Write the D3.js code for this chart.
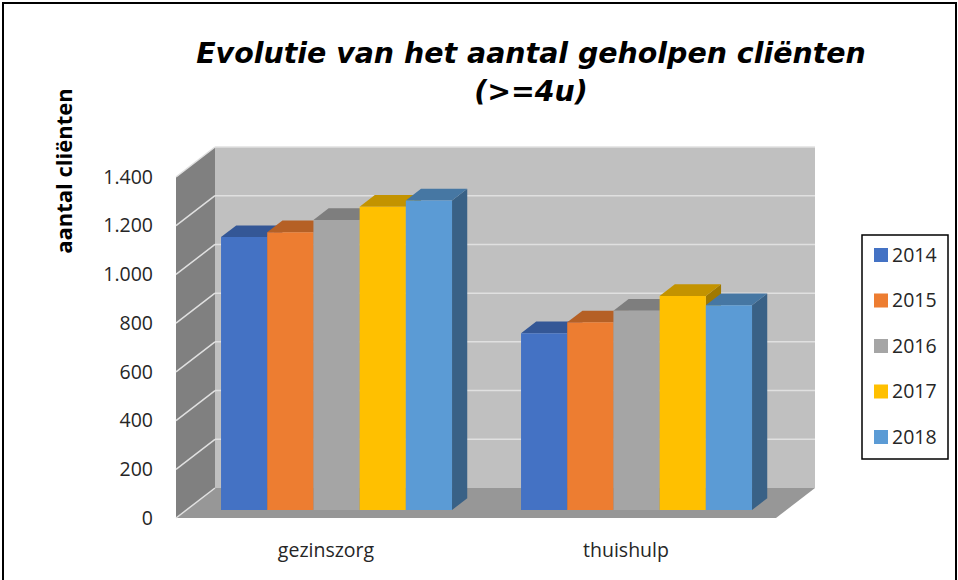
<!DOCTYPE html>
<html>
<head>
<meta charset="utf-8">
<script src="https://cdn.jsdelivr.net/npm/d3@7"></script>
<style>
  body { margin: 0; background: #fff; }
  svg { display: block; }
</style>
</head>
<body>
<div id="chart"></div>
<script>
// data
const categories = ['gezinszorg', 'thuishulp'];
const years = ['2014', '2015', '2016', '2017', '2018'];
const gezinszorg = [1120, 1140, 1190, 1245, 1270];
const thuishulp = [725, 770, 818, 878, 840];
const yTicks = [0, 200, 400, 600, 800, 1000, 1200, 1400];
const colors = ['#4472C4', '#ED7D31', '#A5A5A5', '#FFC000', '#5B9BD5'];

const seriesByCat = { gezinszorg: gezinszorg, thuishulp: thuishulp };

const W = 958, H = 580;
// front plane of the 3d box, plus the depth shift to the back wall
const plot = { left: 176, right: 776, top: 177, bottom: 518 };
const depth = { dx: 39, dy: 30 };
const barZ = [0.27, 0.66];   // bars sit inside the box depth

const svg = d3.select('#chart')
  .append('svg')
    .attr('width', W)
    .attr('height', H);

svg.append('rect')
  .attr('x', 3).attr('y', 3)
  .attr('width', W - 5).attr('height', H + 10)
  .attr('fill', '#fff')
  .attr('stroke', '#000')
  .attr('stroke-width', 2);

const x = d3.scaleBand()
  .domain(categories)
  .range([plot.left, plot.right])
  .paddingInner(0.23)
  .paddingOuter(0.115);

const xInner = d3.scaleBand()
  .domain(years)
  .range([0, x.bandwidth()]);

const y = d3.scaleLinear()
  .domain([0, 1400])
  .range([plot.bottom, plot.top]);

// projection: plane x, value, depth fraction z (0 = front, 1 = back)
function proj(px, v, z) {
  return [px + z * depth.dx, y(v) - z * depth.dy];
}
function poly(pts) {
  return 'M' + pts.map(p => p.join(',')).join('L') + 'Z';
}

// walls
const walls = svg.append('g');
walls.append('path')
  .attr('d', poly([proj(plot.left, 0, 1), proj(plot.right, 0, 1),
                   proj(plot.right, 1400, 1), proj(plot.left, 1400, 1)]))
  .attr('fill', '#c0c0c0');
walls.append('path')
  .attr('d', poly([proj(plot.left, 0, 0), proj(plot.left, 1400, 0),
                   proj(plot.left, 1400, 1), proj(plot.left, 0, 1)]))
  .attr('fill', '#808080');
walls.append('path')
  .attr('d', poly([proj(plot.left, 0, 0), proj(plot.right, 0, 0),
                   proj(plot.right, 0, 1), proj(plot.left, 0, 1)]))
  .attr('fill', '#979797');

// gridlines on back and side wall
const grid = svg.append('g')
  .attr('stroke', '#e0e0e0')
  .attr('stroke-width', 1.5)
  .attr('fill', 'none');
grid.selectAll('.gb')
  .data(yTicks.filter(t => t > 0))
  .enter()
  .append('path')
    .attr('d', d => 'M' + proj(plot.left, d, 1) + 'L' + proj(plot.right, d, 1));
grid.selectAll('.gs')
  .data(yTicks)
  .enter()
  .append('path')
    .attr('d', d => 'M' + proj(plot.left, d, 0) + 'L' + proj(plot.left, d, 1));

// bars
const bars = svg.append('g');
categories.forEach(cat => {
  seriesByCat[cat].forEach((v, i) => {
    const xl = x(cat) + xInner(years[i]);
    const xr = xl + xInner.bandwidth();
    const base = d3.color(colors[i]);
    const g = bars.append('g');
    g.append('path')
      .attr('d', poly([proj(xr, v, barZ[0]), proj(xr, v, barZ[1]),
                       proj(xr, 0, barZ[1]), proj(xr, 0, barZ[0])]))
      .attr('fill', base.darker(1.3).formatHex());
    g.append('path')
      .attr('d', poly([proj(xl, v, barZ[0]), proj(xr, v, barZ[0]),
                       proj(xr, v, barZ[1]), proj(xl, v, barZ[1])]))
      .attr('fill', base.darker(0.75).formatHex());
    g.append('path')
      .attr('d', poly([proj(xl, 0, barZ[0]), proj(xr, 0, barZ[0]),
                       proj(xr, v, barZ[0]), proj(xl, v, barZ[0])]))
      .attr('fill', colors[i]);
  });
});

// y axis labels
const nl = d3.formatLocale({ decimal: ',', thousands: '.', grouping: [3], currency: ['€', ''] });
const yAxis = svg.append('g')
  .attr('transform', 'translate(' + plot.left + ',0)')
  .call(d3.axisLeft(y).tickValues(yTicks).tickSize(0).tickPadding(23).tickFormat(nl.format(',d')));
yAxis.select('.domain').remove();
yAxis.selectAll('text')
  .style('font-family', '"Open Sans", sans-serif')
  .style('font-size', '19.5px')
  .style('fill', '#262626');

// x labels
svg.append('g')
  .selectAll('text')
  .data(categories)
  .enter()
  .append('text')
    .attr('x', d => x(d) + x.bandwidth() / 2)
    .attr('y', 557)
    .attr('text-anchor', 'middle')
    .style('font-family', '"Open Sans", sans-serif')
    .style('font-size', '19.5px')
    .style('fill', '#262626')
    .text(d => d);

// y title
svg.append('text')
  .attr('transform', 'translate(72,171) rotate(-90)')
  .attr('text-anchor', 'middle')
  .style('font-family', '"Open Sans", sans-serif')
  .style('font-weight', 'bold')
  .style('font-size', '22px')
  .style('fill', '#000')
  .text('aantal cliënten');

// title
const titleLines = ['Evolutie van het aantal geholpen cliënten', '(>=4u)'];
const title = svg.append('g')
  .selectAll('text')
  .data(titleLines)
  .enter()
  .append('text')
    .attr('x', 531)
    .attr('y', (d, i) => 63 + i * 38)
    .attr('text-anchor', 'middle')
    .style('font-family', '"Liberation Sans Narrow", "DejaVu Sans", sans-serif')
    .style('font-weight', 'bold')
    .style('font-style', 'italic')
    .style('font-size', '30px')
    .style('fill', '#000')
    .text(d => d);
// fit the first line to the width seen in the picture
const len = title.node().getComputedTextLength();
title.style('font-size', (30 * 670 / len) + 'px');

// legend
const legend = svg.append('g')
  .attr('transform', 'translate(862,235)');
legend.append('rect')
  .attr('width', 86)
  .attr('height', 224)
  .attr('fill', '#fff')
  .attr('stroke', '#000')
  .attr('stroke-width', 1.5);
const items = legend.selectAll('.legend-item')
  .data(years)
  .enter()
  .append('g')
    .attr('class', 'legend-item')
    .attr('transform', (d, i) => `translate(0, ${20 + i * 45.5})`);
items.append('rect')
  .attr('x', 12)
  .attr('y', -7)
  .attr('width', 14)
  .attr('height', 14)
  .style('fill', (d, i) => colors[i]);
items.append('text')
  .attr('x', 30)
  .attr('y', 0)
  .attr('dy', '0.35em')
  .style('font-family', '"Open Sans", sans-serif')
  .style('font-size', '19.5px')
  .style('fill', '#262626')
  .text(d => d);
</script>
</body>
</html>
